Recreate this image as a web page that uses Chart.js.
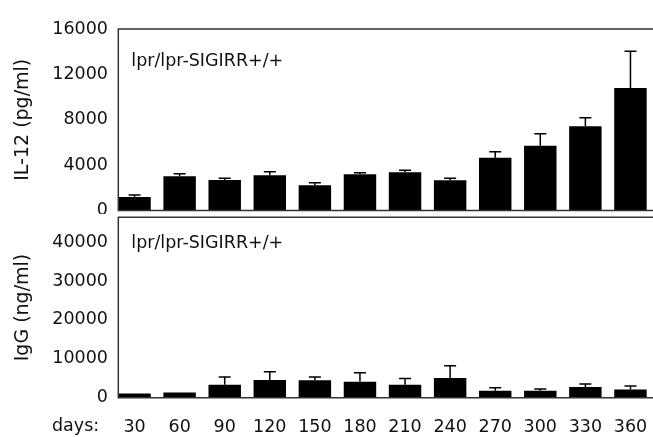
<!DOCTYPE html>
<html>
<head>
<meta charset="utf-8">
<script src="https://cdn.jsdelivr.net/npm/chart.js@4.4.0/dist/chart.umd.min.js"></script>
<style>
  html, body { margin: 0; padding: 0; background: #fff; }
  #wrap { position: relative; width: 653px; height: 437px; }
  .panel { position: absolute; left: 0; width: 653px; }
  #p1 { top: 0; height: 214px; }
  #p2 { top: 214px; height: 223px; }
</style>
</head>
<body>
<div id="wrap">
  <div class="panel" id="p1"><canvas id="c1"></canvas></div>
  <div class="panel" id="p2"><canvas id="c2"></canvas></div>
</div>
<script>
// days after birth
const days = ["30", "60", "90", "120", "150", "180", "210", "240", "270", "300", "330", "360"];

// IL-12 (pg/ml), mean and error
const il12Mean = [1190, 3020, 2690, 3100, 2220, 3190, 3370, 2660, 4650, 5710, 7420, 10800];
const il12Err  = [180, 230, 150, 320, 230, 140, 170, 180, 530, 1060, 760, 3230];

// IgG (ng/ml), mean and error
const iggMean = [1100, 1350, 3340, 4540, 4500, 4110, 3340, 5050, 1800, 1800, 2740, 2140];
const iggErr  = [0, 0, 1970, 2140, 810, 2320, 1630, 3170, 770, 430, 770, 860];

const il12Ticks = [0, 4000, 8000, 12000, 16000];
const iggTicks  = [0, 10000, 20000, 30000, 40000];

const groupLabel = "lpr/lpr-SIGIRR+/+";
const FONT = '"DejaVu Sans", sans-serif';

// error bars, frame and in-panel label
const panelPlugin = {
  id: "panel",
  afterDatasetsDraw(chart, args, opts) {
    const { ctx, chartArea: a } = chart;
    const meta = chart.getDatasetMeta(0);
    const b0 = meta.data[0];
    const left = b0.x - b0.width / 2;
    const means = chart.data.datasets[0].data;
    const y = chart.scales.y;
    ctx.save();
    ctx.strokeStyle = "#000";
    ctx.lineWidth = 1.5;
    meta.data.forEach((bar, i) => {
      if (!opts.errors[i]) return;
      const yt = y.getPixelForValue(means[i] + opts.errors[i]);
      ctx.beginPath();
      ctx.moveTo(bar.x, bar.y);
      ctx.lineTo(bar.x, yt);
      ctx.moveTo(bar.x - 6, yt);
      ctx.lineTo(bar.x + 6, yt);
      ctx.stroke();
    });
    ctx.strokeStyle = "#333";
    ctx.beginPath();
    ctx.moveTo(a.right, a.top);
    ctx.lineTo(left, a.top);
    ctx.lineTo(left, a.bottom);
    ctx.lineTo(a.right, a.bottom);
    ctx.stroke();
    ctx.fillStyle = "#111";
    ctx.font = "17.5px " + FONT;
    ctx.textAlign = "left";
    ctx.textBaseline = "alphabetic";
    ctx.fillText(groupLabel, left + 13, a.top + opts.labelDy);
    if (opts.lead) ctx.fillText(opts.lead, 52, opts.leadY);
    ctx.restore();
  }
};

function makeChart(id, means, errs, ticks, max, title, cfg) {
  return new Chart(document.getElementById(id), {
    type: "bar",
    data: {
      labels: days,
      datasets: [{
        data: means,
        backgroundColor: "#000",
        borderWidth: 0,
        barPercentage: 0.72,
        categoryPercentage: 1
      }]
    },
    options: {
      responsive: true,
      maintainAspectRatio: false,
      animation: false,
      layout: { padding: { top: cfg.padTop, bottom: cfg.padBottom, left: 0, right: 0 } },
      plugins: {
        legend: { display: false },
        tooltip: { enabled: false },
        panel: { errors: errs, labelDy: cfg.labelDy, lead: cfg.lead, leadY: cfg.leadY }
      },
      scales: {
        x: {
          display: cfg.showX,
          grid: { display: false, drawTicks: false },
          border: { display: false },
          ticks: { color: "#111", font: { family: FONT, size: 17.5 }, padding: 19, maxRotation: 0, autoSkip: false },
          afterFit: s => { s.height = cfg.xHeight; s.paddingLeft = 0; s.paddingRight = 0; }
        },
        y: {
          min: 0,
          max: max,
          grid: { display: false, drawTicks: false },
          border: { display: false },
          ticks: { color: "#111", font: { family: FONT, size: 17.5 }, padding: 4, callback: v => String(v) },
          afterBuildTicks: s => { s.ticks = ticks.map(v => ({ value: v })); },
          afterFit: s => { s.width = 112; s.paddingTop = 0; s.paddingBottom = 0; },
          title: { display: true, text: title, color: "#111", font: { family: FONT, size: 19 }, padding: { top: 12, bottom: 0 } }
        }
      }
    },
    plugins: [panelPlugin]
  });
}

makeChart("c1", il12Mean, il12Err, il12Ticks, 16000, "IL-12 (pg/ml)",
  { padTop: 29, padBottom: 3.5, showX: false, xHeight: 0, labelDy: 37 });
makeChart("c2", iggMean, iggErr, iggTicks, 46400, "IgG (ng/ml)",
  { padTop: 3.3, padBottom: 0, showX: true, xHeight: 39.3, labelDy: 31, lead: "days:", leadY: 217 });
</script>
</body>
</html>
